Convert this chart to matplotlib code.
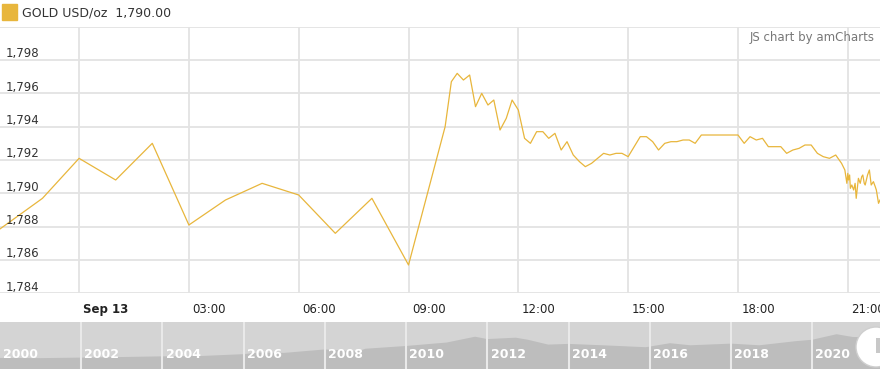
import matplotlib.pyplot as plt
import matplotlib.transforms as mtransforms
from matplotlib.patches import Rectangle, Circle

# hours relative to Sep 13 00:00
hours = [-2.2, -1.0, 0, 1, 2, 3, 4, 5, 6, 7, 8, 9, 10,
         10.17, 10.33, 10.5, 10.67, 10.83, 11.0, 11.17, 11.33, 11.5, 11.67, 11.83,
         12.0, 12.17, 12.33, 12.5, 12.67, 12.83, 13.0, 13.17, 13.33, 13.5, 13.67, 13.83,
         14.0, 14.33, 14.5, 14.67, 14.83, 15.0, 15.33, 15.5, 15.67, 15.83,
         16.0, 16.17, 16.33, 16.5, 16.67, 16.83, 17.0, 18.0, 18.17, 18.33, 18.5, 18.67, 18.83,
         19.17, 19.33, 19.5, 19.67, 19.83, 20.0, 20.17, 20.33, 20.5, 20.67, 20.83, 20.92,
         20.975, 21.0, 21.02, 21.05, 21.07, 21.11, 21.16, 21.2, 21.23, 21.29, 21.34, 21.38,
         21.41, 21.45, 21.475, 21.54, 21.59, 21.64, 21.70, 21.75, 21.78, 21.84, 21.88]
prices = [1787.8, 1789.7, 1792.1, 1790.8, 1793.0, 1788.1, 1789.6, 1790.6, 1789.9, 1787.6, 1789.7, 1785.7, 1794.0,
          1796.7, 1797.2, 1796.8, 1797.1, 1795.2, 1796.0, 1795.3, 1795.6, 1793.8, 1794.5, 1795.6,
          1795.0, 1793.3, 1793.0, 1793.7, 1793.7, 1793.3, 1793.6, 1792.6, 1793.1, 1792.3, 1791.9, 1791.6,
          1791.8, 1792.4, 1792.3, 1792.4, 1792.4, 1792.2, 1793.4, 1793.4, 1793.1, 1792.6,
          1793.0, 1793.1, 1793.1, 1793.2, 1793.2, 1793.0, 1793.5, 1793.5, 1793.0, 1793.4, 1793.2, 1793.3, 1792.8,
          1792.8, 1792.4, 1792.6, 1792.7, 1792.9, 1792.9, 1792.4, 1792.2, 1792.1, 1792.3, 1791.8, 1791.4,
          1790.6, 1791.2, 1790.8, 1791.1, 1790.3, 1790.5, 1790.2, 1790.6, 1789.7, 1790.9, 1790.6, 1791.0,
          1791.1, 1790.6, 1790.5, 1791.1, 1791.4, 1790.5, 1790.7, 1790.4, 1790.2, 1789.4, 1789.6]

y_ticks = [1784, 1786, 1788, 1790, 1792, 1794, 1796, 1798]
x_ticks = [0, 3, 6, 9, 12, 15, 18, 21]
x_labels = ["Sep 13", "03:00", "06:00", "09:00", "12:00", "15:00", "18:00", "21:00"]

# long-term overview for the scrollbar
scroll_years = [2000, 2001, 2002, 2003, 2004, 2005, 2006, 2006.4, 2007, 2008, 2008.8, 2009, 2010,
                2011, 2011.7, 2012, 2012.7, 2013, 2013.5, 2014, 2015, 2015.9, 2016.5, 2017, 2018,
                2018.7, 2019, 2019.6, 2020, 2020.6, 2021, 2021.67]
scroll_prices = [285, 270, 310, 350, 400, 430, 560, 680, 650, 900, 750, 950, 1150,
                 1400, 1820, 1650, 1750, 1600, 1250, 1300, 1180, 1060, 1350, 1200, 1320,
                 1200, 1300, 1500, 1600, 2000, 1800, 1790]
year_labels = list(range(2000, 2021, 2))

gold = "#e8b63c"
grid = "#e3e3e3"

fig = plt.figure(figsize=(8.8, 3.69), dpi=100)
H = 369.0

ax = fig.add_axes([0, (H - 293.3) / H, 1, 266.6 / H])
ax.plot(hours, prices, color=gold, lw=0.9)
ax.set_xlim(-2.16, 21.88)
ax.set_ylim(1784, 1800)
for v in y_ticks + [1800]:
    ax.axhline(v, color=grid, lw=1.3, zorder=0)
for t in x_ticks:
    ax.axvline(t, color=grid, lw=1.3, zorder=0)
ax.set_xticks([])
ax.set_yticks([])
for s in ax.spines.values():
    s.set_visible(False)

off = mtransforms.offset_copy(ax.get_yaxis_transform(), fig=fig, x=0, y=2, units="points")
for v in y_ticks:
    ax.text(6 / 880, v, f"{v:,}", transform=off, ha="left", va="baseline",
            fontsize=8.5, color="#333333")

xoff = mtransforms.offset_copy(ax.get_xaxis_transform(), fig=fig, x=2.5, y=0, units="points")
for t, lab in zip(x_ticks, x_labels):
    ax.text(t, -16 / 266.6, lab, transform=xoff, ha="left", va="center", fontsize=8.5,
            color="#222222", fontweight="bold" if lab.startswith("Sep") else "normal")

# legend and credit
fig.patches.append(Rectangle((2 / 880, (H - 20) / H), 15 / 880, 16 / H,
                             transform=fig.transFigure, color=gold, zorder=5))
fig.text(22 / 880, (H - 13) / H, "GOLD USD/oz  1,790.00", fontsize=9, color="#333333",
         va="center", ha="left")
fig.text(875 / 880, (H - 37) / H, "JS chart by amCharts", fontsize=8.5, color="#777777",
         va="center", ha="right")

# scrollbar
sax = fig.add_axes([0, 0, 1, 47 / H])
sax.set_facecolor("#d4d4d4")
sax.fill_between(scroll_years, -600, scroll_prices, color="#bdbdbd", lw=0)
sax.set_xlim(2000, 2021.67)
sax.set_ylim(-516, 2885)
for yr in year_labels[1:]:
    sax.axvline(yr, color="#e9e9e9", lw=1.5)
for yr in year_labels:
    sax.text(yr + 0.08, 0.3, str(yr), transform=sax.get_xaxis_transform(), fontsize=9,
             color="white", fontweight="bold", ha="left", va="center")

# scrollbar grip (display pixels, origin bottom-left)
fig.patches.append(Circle((876, H - 347), 20, transform=None, facecolor="white",
                          edgecolor="#cfcfcf", lw=1, zorder=6))
fig.patches.append(Rectangle((875.5, H - 353), 5, 15, transform=None,
                             facecolor="#c8c8c8", edgecolor="none", zorder=7))
sax.set_xticks([])
sax.set_yticks([])
for s in sax.spines.values():
    s.set_visible(False)

fig.savefig("out.png", dpi=100)
